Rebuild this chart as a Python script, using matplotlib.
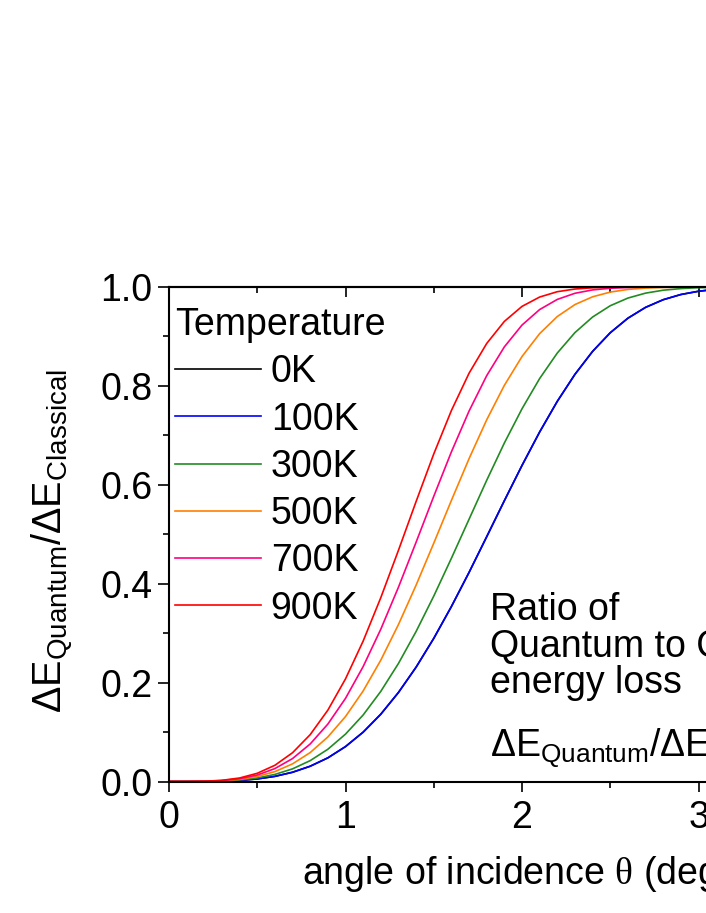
import matplotlib
matplotlib.use("Agg")
import matplotlib.pyplot as plt
from matplotlib.ticker import MultipleLocator

plt.rcParams['font.family'] = ['Liberation Sans', 'DejaVu Sans']
plt.rcParams['mathtext.fontset'] = 'custom'
plt.rcParams['mathtext.rm'] = 'Liberation Sans'
plt.rcParams['mathtext.it'] = 'Liberation Sans:italic'
plt.rcParams['mathtext.sf'] = 'Liberation Serif'

# ---- data ----
theta = [0.0, 0.1, 0.2, 0.3, 0.4, 0.5, 0.6, 0.7, 0.8, 0.9, 1.0, 1.1, 1.2, 1.3, 1.4, 1.5,
         1.6, 1.7, 1.8, 1.9, 2.0, 2.1, 2.2, 2.3, 2.4, 2.5, 2.6, 2.7, 2.8, 2.9, 3.0, 3.1,
         3.2, 3.3, 3.4, 3.5, 3.6]

ratio_0K = [0.0, 0.0, 0.0002, 0.0008, 0.0022, 0.0052, 0.0104, 0.0187, 0.0309, 0.0478, 0.0706,
            0.0998, 0.1361, 0.1800, 0.2312, 0.2894, 0.3538, 0.4228, 0.4950, 0.5678, 0.6391,
            0.7068, 0.7688, 0.8234, 0.8698, 0.9075, 0.9369, 0.9588, 0.9743, 0.9848, 0.9914,
            0.9954, 0.9977, 0.9989, 0.9995, 0.9998, 1.0]
ratio_100K = [0.0, 0.0, 0.0002, 0.0008, 0.0022, 0.0052, 0.0104, 0.0187, 0.0309, 0.0478, 0.0706,
              0.0998, 0.1361, 0.1800, 0.2312, 0.2894, 0.3538, 0.4228, 0.4950, 0.5678, 0.6391,
              0.7068, 0.7688, 0.8234, 0.8698, 0.9075, 0.9369, 0.9588, 0.9743, 0.9848, 0.9914,
              0.9954, 0.9977, 0.9989, 0.9995, 0.9998, 1.0]
ratio_300K = [0.0, 0.0, 0.0002, 0.0010, 0.0031, 0.0072, 0.0143, 0.0256, 0.0422, 0.0652, 0.0958,
              0.1345, 0.1823, 0.2387, 0.3034, 0.3749, 0.4514, 0.5303, 0.6091, 0.6845, 0.7537,
              0.8149, 0.8665, 0.9078, 0.9393, 0.9621, 0.9776, 0.9876, 0.9935, 0.9968, 0.9986,
              0.9994, 0.9998, 1.0, 1.0, 1.0, 1.0]
ratio_500K = [0.0, 0.0, 0.0003, 0.0015, 0.0043, 0.0101, 0.0200, 0.0357, 0.0585, 0.0901, 0.1313,
              0.1831, 0.2454, 0.3174, 0.3971, 0.4819, 0.5684, 0.6528, 0.7314, 0.8011, 0.8594,
              0.9057, 0.9403, 0.9645, 0.9802, 0.9897, 0.9951, 0.9978, 0.9991, 0.9997, 0.9999,
              1.0, 1.0, 1.0, 1.0, 1.0, 1.0]
ratio_700K = [0.0, 0.0, 0.0004, 0.0019, 0.0056, 0.0131, 0.0261, 0.0464, 0.0759, 0.1161, 0.1681,
              0.2324, 0.3080, 0.3929, 0.4839, 0.5767, 0.6666, 0.7491, 0.8207, 0.8789, 0.9230,
              0.9544, 0.9749, 0.9873, 0.9941, 0.9975, 0.9990, 0.9997, 0.9999, 1.0, 1.0,
              1.0, 1.0, 1.0, 1.0, 1.0, 1.0]
ratio_900K = [0.0, 0.0, 0.0005, 0.0024, 0.0071, 0.0166, 0.0328, 0.0582, 0.0948, 0.1443, 0.2075,
              0.2840, 0.3718, 0.4675, 0.5662, 0.6623, 0.7502, 0.8256, 0.8858, 0.9304, 0.9608,
              0.9797, 0.9905, 0.9959, 0.9985, 0.9995, 0.9998, 1.0, 1.0, 1.0, 1.0,
              1.0, 1.0, 1.0, 1.0, 1.0, 1.0]

labels = ['0K', '100K', '300K', '500K', '700K', '900K']
series = [ratio_0K, ratio_100K, ratio_300K, ratio_500K, ratio_700K, ratio_900K]
colors = ['#000000', '#0000FF', '#228B22', '#FF8000', '#FF0080', '#FF0000']

FS = 27

fig = plt.figure(figsize=(7.06, 9.13), dpi=100)
ax = fig.add_axes([169 / 706, 1 - 781.5 / 913, 1.0, 494.5 / 913])

for y, c, lab in zip(series, colors, labels):
    ax.plot(theta, y, color=c, lw=1.2, label=lab)

ax.set_xlim(0, 4)
ax.set_ylim(0, 1.0)
ax.xaxis.set_major_locator(MultipleLocator(1))
ax.xaxis.set_minor_locator(MultipleLocator(0.5))
ax.yaxis.set_major_locator(MultipleLocator(0.2))
ax.yaxis.set_minor_locator(MultipleLocator(0.1))
ax.yaxis.set_major_formatter(matplotlib.ticker.FormatStrFormatter('%.1f'))

for s in ax.spines.values():
    s.set_linewidth(1.5)

ax.tick_params(axis='x', which='both', bottom=True, top=False, direction='out', labelsize=FS, width=1.2, pad=6)
ax.tick_params(axis='x', which='major', length=7.5)
ax.tick_params(axis='x', which='minor', length=4)
ax.tick_params(axis='y', which='both', left=True, right=True, direction='out', labelsize=FS, width=1.2, pad=4)
ax.tick_params(axis='y', which='major', length=8)
ax.tick_params(axis='y', which='minor', length=4.5)

# top axis ticks pointing inward
sec = ax.secondary_xaxis('top')
sec.xaxis.set_major_locator(MultipleLocator(1))
sec.xaxis.set_minor_locator(MultipleLocator(0.5))
sec.tick_params(axis='x', which='both', direction='in', labeltop=False, width=1.2)
sec.tick_params(axis='x', which='major', length=7.5)
sec.tick_params(axis='x', which='minor', length=4)
sec.spines['top'].set_linewidth(1.5)

ax.set_xlabel('angle of incidence $\\mathsf{θ}$ (degrees)', fontsize=FS)
ax.xaxis.label.set_horizontalalignment('left')
ax.xaxis.label.set_verticalalignment('center')
ax.xaxis.set_label_coords((302 - 169) / 706, (781.5 - 874) / 494.5)

ax.set_ylabel('ΔE$_{\\mathregular{Quantum}}$/ΔE$_{\\mathregular{Classical}}$', fontsize=28.5)
ax.yaxis.label.set_verticalalignment('center')
ax.yaxis.label.set_rotation_mode('anchor')
ax.yaxis.set_label_coords((52 - 169) / 706, (781.5 - 541) / 494.5)

leg = ax.legend(loc='upper left', bbox_to_anchor=(-0.002, 0.9747), frameon=False,
                fontsize=FS, title='Temperature', title_fontsize=FS,
                handlelength=2.3, handletextpad=0.25, labelspacing=0.30,
                borderpad=0.2, borderaxespad=0.0, alignment='left')
for h in leg.get_lines():
    h.set_linewidth(1.2)

tx = (490 - 169) / 706
ax.text(tx, (781.5 - 620) / 494.5, 'Ratio of', transform=ax.transAxes, fontsize=FS, va='baseline')
ax.text(tx, (781.5 - 657) / 494.5, 'Quantum to Classical', transform=ax.transAxes, fontsize=FS, va='baseline')
ax.text(tx, (781.5 - 693) / 494.5, 'energy loss', transform=ax.transAxes, fontsize=FS, va='baseline')
ax.text(tx, (781.5 - 757) / 494.5, 'ΔE$_{\\mathregular{Quantum}}$/ΔE$_{\\mathregular{Classical}}$',
        transform=ax.transAxes, fontsize=FS, va='baseline')

fig.savefig('out.png', dpi=100)
